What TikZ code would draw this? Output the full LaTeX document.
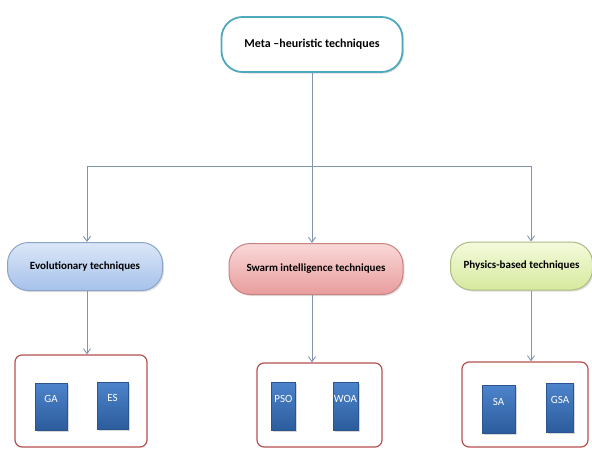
\documentclass[tikz,border=0pt]{standalone}
\usepackage{fontspec}
\setmainfont{Carlito}
\usetikzlibrary{arrows.meta,shadows,positioning}
\definecolor{linec}{HTML}{8196AC}
\definecolor{topb}{HTML}{4FA9BE}
\definecolor{evot}{HTML}{DCE7F8}
\definecolor{evob}{HTML}{A6C1EA}
\definecolor{evod}{HTML}{8BA4C9}
\definecolor{swat}{HTML}{FAD8D8}
\definecolor{swab}{HTML}{E89C9C}
\definecolor{swad}{HTML}{C98282}
\definecolor{phyt}{HTML}{F4FADC}
\definecolor{phyb}{HTML}{D6E99E}
\definecolor{phyd}{HTML}{AABB84}
\definecolor{boxd}{HTML}{B5514F}
\definecolor{sqt}{HTML}{4D84CC}
\definecolor{sqb}{HTML}{2C5C9C}
\definecolor{sqd}{HTML}{2A5590}
\tikzset{
  x=1pt, y=-1pt,
  conn/.style={draw=linec, line width=0.9pt},
  arr/.style={conn, -{Straight Barb[length=5pt,width=7pt]}},
  pill/.style={rounded corners=21pt, line width=1pt, font=\bfseries\fontsize{11}{13}\selectfont,
    drop shadow={opacity=0.25, shadow xshift=1.5pt, shadow yshift=-1.5pt}},
  grpbox/.style={draw=boxd, line width=1.2pt, rounded corners=7pt, fill=white},
  sq/.style={draw=sqd, line width=0.6pt, top color=sqt, bottom color=sqb, text=white,
    font=\fontsize{11}{12}\selectfont, inner sep=0pt, text height=7pt, text depth=15pt,
    drop shadow={opacity=0.3, shadow xshift=1.5pt, shadow yshift=-1.5pt}},
}
\begin{document}
\begin{tikzpicture}
\useasboundingbox (0,0) rectangle (592,450);
% top node
\node[pill, draw=topb, line width=1.8pt, fill=white, minimum width=181pt, minimum height=55pt,
  font=\bfseries\fontsize{12}{14}\selectfont] (top) at (312,44.5) {Meta –heuristic techniques};
% category nodes
\node[pill, draw=evod, top color=evot, bottom color=evob, minimum width=155pt, minimum height=48pt] (evo) at (85,266.5) {Evolutionary techniques};
\node[pill, draw=swad, top color=swat, bottom color=swab, minimum width=174pt, minimum height=51pt] (swa) at (316,269) {Swarm intelligence techniques};
\node[pill, draw=phyd, top color=phyt, bottom color=phyb, minimum width=142pt, minimum height=48pt, anchor=west] (phy) at (450,266) {Physics-based techniques};
% bus
\coordinate (b0) at (312,166);
\coordinate (b1) at (87,166);
\coordinate (b3) at (531,166);
\draw[conn] (top.south -| b0) -- (b0);
\draw[conn] (b1) -- (b3);
\draw[arr] (b1) -- (b1 |- evo.north);
\draw[arr] (b0) -- (b0 |- swa.north);
\draw[arr] (b3) -- (b3 |- phy.north);
% group boxes
\node[grpbox, minimum width=132pt, minimum height=92pt] (g1) at (81,401) {};
\node[grpbox, minimum width=125pt, minimum height=84pt] (g2) at (319.5,405) {};
\node[grpbox, minimum width=126pt, minimum height=85pt] (g3) at (525,404.5) {};
\draw[arr] (evo.south -| b1) -- (b1 |- g1.north);
\draw[arr] (swa.south -| b0) -- (b0 |- g2.north);
\draw[arr] (phy.south -| b3) -- (b3 |- g3.north);
% squares
\node[sq, minimum width=32pt, minimum height=47pt] (ga) at (51,406.5) {GA};
\node[sq, minimum width=31pt, minimum height=47pt] (es) at (112.5,405.5) {ES};
\node[sq, minimum width=24pt, minimum height=48pt] (pso) at (283.5,406) {PSO};
\node[sq, minimum width=25pt, minimum height=48pt] (woa) at (345.5,406) {WOA};
\node[sq, minimum width=33pt, minimum height=48pt] (sa) at (498.5,409) {SA};
\node[sq, minimum width=27pt, minimum height=49pt] (gsa) at (560,407.5) {GSA};
\end{tikzpicture}
\end{document}
